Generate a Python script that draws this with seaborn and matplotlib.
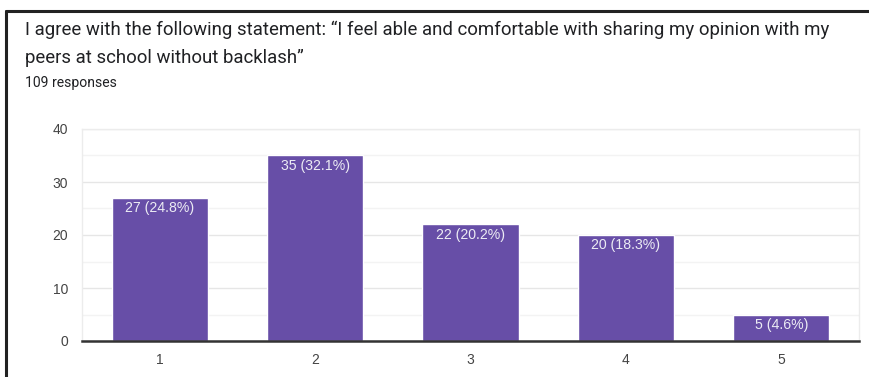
import matplotlib
matplotlib.use("Agg")
import matplotlib.pyplot as plt
from matplotlib.lines import Line2D
import seaborn as sns
import pandas as pd

# Survey results: agreement scale 1-5
categories = ["1", "2", "3", "4", "5"]
counts = [27, 35, 22, 20, 5]
percents = [24.8, 32.1, 20.2, 18.3, 4.6]
y_ticks = [0, 10, 20, 30, 40]

title_lines = [
    "I agree with the following statement: \u201cI feel able and comfortable with sharing my opinion with my",
    "peers at school without backlash\u201d",
]
subtitle = "109 responses"

sns.set_theme(style="white")
# chart text in an Arial-like face, heading in Roboto
plt.rcParams["font.family"] = ["Liberation Sans", "DejaVu Sans"]
title_font = ["Roboto", "DejaVu Sans"]

df = pd.DataFrame({"answer": categories, "count": counts})

fig = plt.figure(figsize=(8.7, 3.77), dpi=100)
ax = fig.add_axes([82 / 870, 1 - 341 / 377, (859 - 82) / 870, (341 - 129) / 377])

sns.barplot(data=df, x="answer", y="count", color="#674ea7", width=0.62,
            saturation=1, ax=ax, zorder=3)

ax.set_ylim(0, 40)
ax.set_xlim(-0.5, len(categories) - 0.5)
ax.set_yticks(y_ticks)
ax.set_yticks([5, 15, 25, 35], minor=True)
ax.grid(axis="y", which="major", color="#e6e6e6", linewidth=1, zorder=0)
ax.grid(axis="y", which="minor", color="#f3f3f3", linewidth=1, zorder=0)
ax.tick_params(axis="both", which="both", length=0, labelsize=10,
               labelcolor="#444444")
ax.tick_params(axis="y", pad=10)
ax.tick_params(axis="x", pad=9)
ax.set_xlabel("")
ax.set_ylabel("")

for side in ["left", "right", "top"]:
    ax.spines[side].set_color("#ececec")
    ax.spines[side].set_linewidth(1)
ax.spines["bottom"].set_color("#333333")
ax.spines["bottom"].set_linewidth(1.8)
ax.spines["bottom"].set_zorder(5)

# value labels inside the top of each bar
for i, (c, p) in enumerate(zip(counts, percents)):
    ax.annotate(f"{c} ({p}%)", xy=(i, c), xytext=(0, -7.5),
                textcoords="offset points", ha="center", va="center",
                color="#ececf4", fontsize=10.2, zorder=6)

# title block
fig.text(25 / 870, 1 - 30 / 377, title_lines[0], fontsize=13.45,
         family=title_font, color="#202124", va="center", ha="left")
fig.text(25 / 870, 1 - 58 / 377, title_lines[1], fontsize=13.45,
         family=title_font, color="#202124", va="center", ha="left")
fig.text(25 / 870, 1 - 83 / 377, subtitle, fontsize=10.1,
         family=title_font, color="#202124", va="center", ha="left")

# frame lines along the top and left edge
fig.add_artist(Line2D([6 / 870, 1], [1 - 11 / 377, 1 - 11 / 377],
                      transform=fig.transFigure, color="#222222", linewidth=2.2))
fig.add_artist(Line2D([6 / 870, 6 / 870], [0, 1 - 11 / 377],
                      transform=fig.transFigure, color="#222222", linewidth=2.2))

fig.savefig("out.png", dpi=100)
